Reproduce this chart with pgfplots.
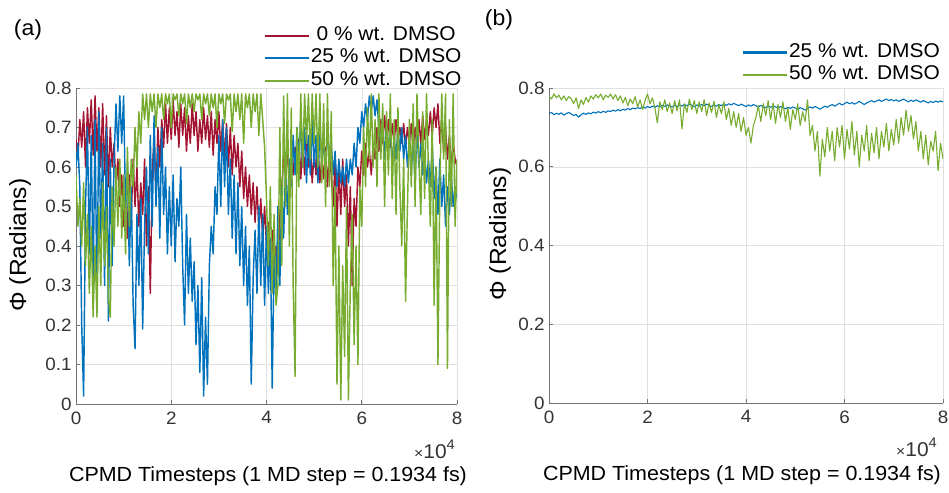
\documentclass[border=0pt]{standalone}
\usepackage{fontspec}
\setmainfont{Liberation Sans}[FakeStretch=1.05]
\usepackage{pgfplots}
\usepackage{pgfplotstable}
\pgfplotsset{compat=1.18}
\definecolor{mred}{RGB}{162,20,47}
\definecolor{mblue}{RGB}{0,114,189}
\definecolor{mgreen}{RGB}{119,172,48}

% x in units of 1e4 timesteps; r = 0 %, b = 25 %, g = 50 % wt. DMSO
\pgfplotstableread{
x r b g
0.00 .67 .60 .58
0.04 .62 .66 .45
0.08 .72 .55 .52
0.12 .65 .20 .40
0.16 .74 .02 .56
0.20 .60 .50 .35
0.24 .75 .70 .48
0.28 .66 .38 .28
0.32 .77 .68 .45
0.36 .63 .30 .22
0.40 .78 .72 .40
0.44 .64 .25 .22
0.48 .75 .74 .50
0.52 .60 .42 .30
0.56 .76 .66 .56
0.60 .58 .30 .35
0.64 .73 .70 .50
0.68 .55 .21 .27
0.72 .70 .62 .22
0.76 .60 .35 .55
0.80 .66 .62 .40
0.84 .55 .76 .60
0.88 .62 .64 .45
0.92 .50 .78 .62
0.96 .58 .66 .42
1.00 .45 .78 .58
1.04 .55 .50 .38
1.08 .42 .60 .65
1.12 .58 .35 .45
1.16 .47 .55 .62
1.20 .62 .25 .55
1.24 .50 .14 .70
1.28 .60 .48 .60
1.32 .45 .30 .74
1.36 .56 .52 .66
1.40 .48 .19 .785
1.44 .62 .45 .72
1.48 .40 .60 .785
1.52 .55 .38 .70
1.56 .28 .68 .785
1.60 .58 .45 .74
1.64 .68 .73 .785
1.68 .52 .50 .70
1.72 .70 .65 .785
1.76 .60 .42 .75
1.80 .72 .70 .785
1.84 .65 .48 .72
1.88 .76 .60 .785
1.92 .66 .38 .76
1.96 .75 .55 .785
2.00 .67 .40 .70
2.04 .77 .58 .785
2.08 .68 .36 .77
2.12 .74 .52 .785
2.16 .65 .45 .73
2.20 .76 .60 .785
2.24 .68 .35 .76
2.28 .75 .20 .785
2.32 .64 .48 .71
2.36 .73 .28 .785
2.40 .66 .42 .75
2.44 .76 .26 .785
2.48 .68 .36 .74
2.52 .74 .15 .785
2.56 .64 .30 .77
2.60 .72 .08 .785
2.64 .66 .32 .72
2.68 .75 .02 .785
2.72 .67 .22 .76
2.76 .73 .05 .785
2.80 .65 .35 .73
2.84 .74 .45 .785
2.88 .63 .38 .75
2.92 .72 .55 .785
2.96 .66 .48 .70
3.00 .74 .68 .785
3.04 .64 .50 .76
3.08 .72 .72 .785
3.12 .62 .55 .71
3.16 .71 .70 .785
3.20 .60 .48 .77
3.24 .70 .62 .785
3.28 .58 .42 .69
3.32 .68 .58 .785
3.36 .60 .38 .74
3.40 .66 .56 .785
3.44 .55 .35 .72
3.48 .64 .50 .785
3.52 .52 .30 .66
3.56 .60 .45 .785
3.60 .50 .25 .75
3.64 .58 .40 .785
3.68 .48 .05 .70
3.72 .56 .32 .785
3.76 .46 .44 .74
3.80 .55 .28 .785
3.84 .44 .50 .68
3.88 .52 .30 .785
3.92 .42 .48 .72
3.96 .50 .25 .65
4.00 .40 .45 .52
4.04 .46 .28 .35
4.08 .35 .42 .55
4.12 .44 .04 .28
4.16 .31 .38 .48
4.20 .40 .26 .25
4.24 .33 .50 .30
4.28 .48 .30 .70
4.32 .55 .55 .35
4.36 .62 .42 .78
4.40 .58 .60 .50
4.44 .64 .48 .785
4.48 .56 .62 .40
4.52 .62 .55 .75
4.56 .58 .68 .30
4.60 .65 .58 .07
4.64 .60 .70 .70
4.68 .67 .62 .55
4.72 .57 .72 .785
4.76 .66 .60 .60
4.80 .58 .70 .785
4.84 .68 .56 .66
4.88 .60 .68 .785
4.92 .66 .58 .62
4.96 .56 .72 .785
5.00 .64 .60 .66
5.04 .58 .68 .785
5.08 .66 .56 .60
5.12 .56 .70 .785
5.16 .62 .62 .56
5.20 .57 .66 .76
5.24 .65 .58 .50
5.28 .55 .70 .785
5.32 .63 .62 .55
5.36 .58 .66 .74
5.40 .50 .58 .30
5.44 .62 .64 .55
5.48 .45 .55 .05
5.52 .60 .62 .40
5.56 .48 .56 .01
5.60 .62 .60 .35
5.64 .50 .55 .12
5.68 .58 .62 .50
5.72 .40 .56 .01
5.76 .55 .62 .30
5.80 .30 .58 .48
5.84 .52 .66 .15
5.88 .45 .60 .40
5.92 .60 .70 .10
5.96 .55 .66 .55
6.00 .64 .74 .45
6.04 .58 .70 .70
6.08 .66 .76 .55
6.12 .60 .72 .75
6.16 .64 .78 .62
6.20 .58 .74 .785
6.24 .66 .78 .60
6.28 .62 .73 .72
6.32 .70 .77 .55
6.36 .64 .70 .785
6.40 .72 .66 .62
6.44 .66 .72 .76
6.48 .73 .62 .50
6.52 .67 .70 .74
6.56 .72 .64 .58
6.60 .65 .70 .785
6.64 .71 .60 .52
6.68 .66 .68 .72
6.72 .72 .62 .48
6.76 .67 .70 .75
6.80 .70 .64 .55
6.84 .66 .70 .40
6.88 .71 .62 .62
6.92 .65 .68 .26
6.96 .70 .60 .50
7.00 .66 .66 .72
7.04 .71 .58 .55
7.08 .64 .68 .76
7.12 .70 .56 .50
7.16 .65 .70 .785
7.20 .72 .60 .62
7.24 .66 .66 .48
7.28 .73 .58 .74
7.32 .67 .64 .52
7.36 .72 .56 .785
7.40 .68 .62 .60
7.44 .74 .55 .45
7.48 .68 .66 .72
7.52 .75 .52 .25
7.56 .70 .60 .60
7.60 .76 .48 .10
7.64 .66 .62 .55
7.68 .72 .50 .785
7.72 .64 .58 .62
7.76 .70 .45 .785
7.80 .62 .55 .09
7.84 .68 .48 .72
7.88 .60 .58 .50
7.92 .66 .50 .785
7.96 .62 .55 .45
8.00 .60 .52 .62
}\lefttab

% right panel: b = 25 %, g = 50 % wt. DMSO
\pgfplotstableread{
x b g
0.00 .735 .780
0.05 .738 .772
0.10 .732 .785
0.15 .736 .775
0.20 .733 .782
0.25 .737 .770
0.30 .731 .780
0.35 .735 .768
0.40 .738 .778
0.45 .734 .773
0.50 .730 .760
0.55 .733 .775
0.60 .726 .748
0.65 .732 .770
0.70 .736 .758
0.75 .733 .776
0.80 .737 .764
0.85 .734 .780
0.90 .739 .772
0.95 .736 .783
1.00 .740 .775
1.05 .737 .785
1.10 .741 .770
1.15 .738 .782
1.20 .742 .776
1.25 .740 .785
1.30 .744 .772
1.35 .741 .783
1.40 .745 .768
1.45 .742 .780
1.50 .746 .762
1.55 .744 .776
1.60 .748 .755
1.65 .745 .772
1.70 .749 .760
1.75 .747 .778
1.80 .750 .752
1.85 .748 .770
1.90 .752 .745
1.95 .749 .768
2.00 .753 .785
2.05 .750 .760
2.10 .754 .775
2.15 .751 .750
2.20 .755 .711
2.25 .752 .765
2.30 .756 .745
2.35 .753 .770
2.40 .757 .740
2.45 .754 .762
2.50 .752 .735
2.55 .756 .768
2.60 .753 .742
2.65 .757 .770
2.70 .754 .696
2.75 .758 .760
2.80 .755 .738
2.85 .759 .772
2.90 .756 .745
2.95 .752 .768
3.00 .757 .735
3.05 .754 .765
3.10 .758 .740
3.15 .755 .770
3.20 .759 .730
3.25 .756 .762
3.30 .753 .738
3.35 .757 .766
3.40 .754 .725
3.45 .758 .758
3.50 .755 .735
3.55 .759 .765
3.60 .756 .720
3.65 .760 .748
3.70 .757 .705
3.75 .761 .740
3.80 .758 .700
3.85 .755 .735
3.90 .759 .690
3.95 .756 .725
4.00 .753 .680
4.05 .757 .700
4.10 .754 .660
4.15 .758 .705
4.20 .755 .725
4.25 .752 .755
4.30 .756 .715
4.35 .753 .760
4.40 .750 .730
4.45 .754 .768
4.50 .751 .720
4.55 .755 .762
4.60 .752 .710
4.65 .749 .758
4.70 .753 .725
4.75 .750 .765
4.80 .747 .715
4.85 .751 .750
4.90 .748 .695
4.95 .752 .745
5.00 .749 .720
5.05 .746 .760
5.10 .750 .705
5.15 .747 .740
5.20 .744 .715
5.25 .748 .770
5.30 .752 .680
5.35 .749 .705
5.40 .753 .640
5.45 .750 .690
5.50 .746 .576
5.55 .750 .670
5.60 .754 .625
5.65 .751 .700
5.70 .755 .640
5.75 .758 .690
5.80 .754 .615
5.85 .758 .700
5.90 .761 .650
5.95 .757 .705
6.00 .760 .620
6.05 .764 .695
6.10 .760 .645
6.15 .763 .715
6.20 .759 .630
6.25 .762 .690
6.30 .766 .600
6.35 .762 .680
6.40 .758 .640
6.45 .762 .705
6.50 .765 .615
6.55 .768 .685
6.60 .764 .635
6.65 .767 .700
6.70 .770 .620
6.75 .766 .690
6.80 .769 .650
6.85 .772 .710
6.90 .768 .640
6.95 .771 .695
7.00 .767 .655
7.05 .770 .720
7.10 .766 .660
7.15 .769 .725
7.20 .772 .680
7.25 .768 .744
7.30 .765 .690
7.35 .769 .730
7.40 .766 .670
7.45 .770 .715
7.50 .767 .640
7.55 .764 .690
7.60 .768 .620
7.65 .765 .680
7.70 .762 .605
7.75 .766 .665
7.80 .763 .640
7.85 .767 .690
7.90 .764 .590
7.95 .767 .660
8.00 .765 .620
}\righttab

\pgfplotsset{
  panel/.style={
    scale only axis, clip mode=individual,
    xmin=0,xmax=8,ymin=0,ymax=0.8,
    xtick={0,2,4,6,8},
    axis x line*=bottom, axis y line*=left,
    axis line style={-,black!55,line width=0.6pt},
    tick align=inside, major tick length=3.5bp,
    tick style={black!55,line width=0.6pt},
    grid=major, grid style={black!12,line width=0.5pt},
    tick label style={font=\fontsize{18}{18}\selectfont,text=black!80},
    /pgf/number format/assume math mode=true,
    /pgf/number format/fixed,
    /pgf/number format/precision=1,
    xticklabel style={yshift=-4bp},
    yticklabel style={xshift=-1bp},
    legend style={draw=none,fill=none,font=\fontsize{20}{20}\selectfont,
      inner sep=0pt,row sep=0bp,
      nodes={inner sep=1bp,text height=15bp,text depth=5.5bp}},
    legend image code/.code={\draw[##1,line width=2.2pt] (0bp,0bp) -- (44bp,0bp);},
    every axis plot/.append style={line width=1.45pt,line join=round},
  },
}
\tikzset{tenfour/.style={anchor=north east,text=black!80,inner sep=0pt}}
\newcommand{\tenfour}{\fontsize{20}{20}\selectfont{\fontsize{15}{15}\selectfont ×}10\raisebox{0.45em}{\fontsize{14}{14}\selectfont 4}}

\begin{document}
\begin{tikzpicture}
\path[use as bounding box] (0bp,0bp) rectangle (949bp,493bp);

\node at (28bp,463bp) {\fontsize{22}{22}\selectfont (a)};
\node at (499bp,473bp) {\fontsize{22}{22}\selectfont (b)};
\node[rotate=90] at (20bp,248bp) {\fontsize{23.5}{23.5}\selectfont Φ (Radians)};
\node[rotate=90] at (500bp,259bp) {\fontsize{23.5}{23.5}\selectfont Φ (Radians)};
\node at (268bp,17bp) {\fontsize{20.5}{20.5}\selectfont CPMD Timesteps (1 MD step = 0.1934 fs)};
\node at (742bp,18bp) {\fontsize{20.5}{20.5}\selectfont CPMD Timesteps (1 MD step = 0.1934 fs)};

\begin{axis}[panel,
  at={(76bp,89bp)}, anchor=south west,
  width=381bp, height=316bp,
  ytick={0,0.1,0.2,0.3,0.4,0.5,0.6,0.7,0.8},
  legend style={at={(1.015,0.987)},anchor=south east},
  legend cell align=center]
\addplot[mred] table[x=x,y=r] {\lefttab};
\addplot[mblue] table[x=x,y=b] {\lefttab};
\addplot[mgreen] table[x=x,y=g] {\lefttab};
\legend{0 \% wt. DMSO,25 \% wt. DMSO,50 \% wt. DMSO}
\node[tenfour] at (rel axis cs:1,0) [yshift=-36bp,xshift=-2bp] {\tenfour};
\end{axis}

\begin{axis}[panel,
  at={(549bp,90bp)}, anchor=south west,
  width=394bp, height=315bp,
  ytick={0,0.2,0.4,0.6,0.8},
  legend style={at={(0.995,1.005)},anchor=south east},
  legend cell align=center]
\addplot[mblue,line width=1.1pt] table[x=x,y=b] {\righttab};
\addplot[mgreen,line width=1.1pt] table[x=x,y=g] {\righttab};
\legend{25 \% wt. DMSO,50 \% wt. DMSO}
\node[tenfour] at (rel axis cs:1,0) [yshift=-35bp,xshift=-6bp] {\tenfour};
\end{axis}
\end{tikzpicture}
\end{document}
